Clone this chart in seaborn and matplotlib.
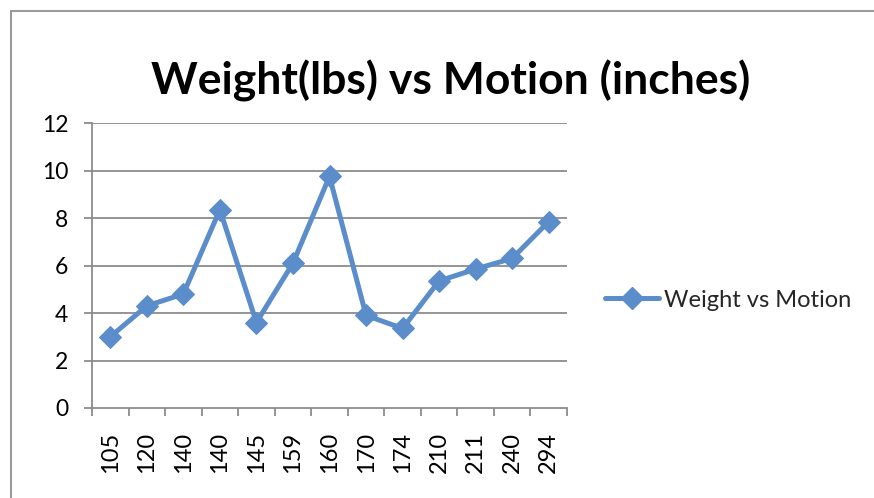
import matplotlib
matplotlib.use("Agg")
import matplotlib.pyplot as plt
import seaborn as sns
import numpy as np
import pandas as pd
from matplotlib.lines import Line2D

categories = ["105", "120", "140", "140", "145", "159", "160", "170", "174", "210", "211", "240", "294"]
motion = [3.0, 4.3, 4.8, 8.35, 3.6, 6.1, 9.75, 3.9, 3.35, 5.35, 5.85, 6.3, 7.85]
series_name = "Weight vs Motion"
title = "Weight(lbs) vs Motion (inches)"
yticks = [0, 2, 4, 6, 8, 10, 12]

sns.set_theme(style="white")
plt.rcParams["font.family"] = ["Lato", "DejaVu Sans"]

W, H = 874, 498
fig = plt.figure(figsize=(W / 100, H / 100), dpi=100)
ax = fig.add_axes([92 / W, 1 - 408 / H, 475 / W, 285 / H])

df = pd.DataFrame({"idx": np.arange(len(categories)), "motion": motion})
color = "#5A8DCA"
sns.lineplot(data=df, x="idx", y="motion", ax=ax, color=color, linewidth=3.6,
             marker="D", markersize=11, markeredgecolor=color, markerfacecolor=color,
             legend=False)

grey = "#8C8C8C"
ax.set_xlim(-0.5, len(categories) - 0.5)
ax.set_ylim(0, 12)
ax.set_yticks(yticks)
ax.set_yticklabels([str(t) for t in yticks])
ax.set_xticks(np.arange(len(categories)))
ax.set_xticklabels(categories, rotation=90)
ax.set_xticks(np.arange(-0.5, len(categories)), minor=True)
ax.tick_params(axis="x", which="major", length=0, pad=17, labelsize=17, labelcolor="black")
ax.tick_params(axis="x", which="minor", length=6, width=1.3, color=grey, direction="out", bottom=True)
ax.tick_params(axis="y", which="major", length=6, width=1.3, color=grey, direction="out", left=True,
               pad=11, labelsize=16.5, labelcolor="black")
for v in yticks[1:]:
    ax.axhline(v, color=grey, linewidth=1.3, zorder=0)
ax.set_xlabel("")
ax.set_ylabel("")
for s in ["top", "right"]:
    ax.spines[s].set_visible(False)
for s in ["left", "bottom"]:
    ax.spines[s].set_color(grey)
    ax.spines[s].set_linewidth(1.3)

fig.text(451 / W, 1 - 81 / H, title, ha="center", va="center", fontsize=32, fontweight="bold", color="black")

handle = Line2D([], [], color=color, linewidth=3.6, marker="D", markersize=11,
                markerfacecolor=color, markeredgecolor=color)
fig.legend([handle], [series_name], loc="center left", bbox_to_anchor=(605 / W, 1 - 300 / H),
           frameon=False, fontsize=17, handlelength=2.3, handletextpad=0.2, borderpad=0, borderaxespad=0)

# outer chart border
fig.add_artist(Line2D([11 / W, 11 / W], [0, 1 - 11 / H], color="#9A9A9A", linewidth=1.5))
fig.add_artist(Line2D([11 / W, 1], [1 - 11 / H, 1 - 11 / H], color="#9A9A9A", linewidth=1.5))

fig.savefig("out.png", dpi=100)
